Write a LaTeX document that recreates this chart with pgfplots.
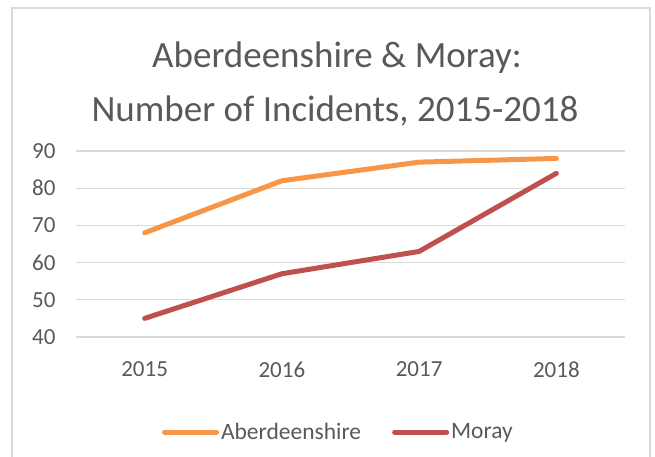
\documentclass[border=0pt]{standalone}
\usepackage{pgfplots}
\pgfplotsset{compat=1.18}
\usepackage{fontspec}
\setmainfont{Carlito}
\definecolor{txt}{HTML}{595959}
\definecolor{gridc}{HTML}{D9D9D9}
\definecolor{aber}{HTML}{F79646}
\definecolor{moray}{HTML}{C0504D}
\pgfplotstableread{
x y
0 68
1 82
2 87
3 88
}\aberdata
\pgfplotstableread{
x y
0 45
1 57
2 63
3 84
}\moraydata
\begin{document}
\begin{tikzpicture}[x=1pt,y=1pt]
\useasboundingbox (0,0) rectangle (655,457);
\draw[gridc, line width=1.2pt] (12,0) -- (12,449) -- (650,449) -- (650,0);
\node[txt, font=\fontsize{37}{54}\selectfont, anchor=base] at (337,389) {Aberdeenshire \& Moray:};
\node[txt, font=\fontsize{37}{54}\selectfont, anchor=base] at (335,335) {Number of Incidents, 2015-2018};
\begin{axis}[
  at={(76pt,120pt)}, anchor=south west,
  scale only axis, width=549pt, height=186pt,
  xmin=-0.5, xmax=3.5, ymin=40, ymax=90,
  xtick={0,1,2,3}, xticklabels={2015,2016,2017,2018},
  ytick={40,50,60,70,80,90},
  xmajorgrids=false, ymajorgrids=true,
  grid style={color=gridc, line width=1.2pt},
  axis line style={draw=none}, tick style={draw=none},
  tick label style={font=\fontsize{23}{27}\selectfont, text=txt},
  /pgf/number format/assume math mode=true,
  xticklabel style={yshift=-21pt},
  yticklabel style={xshift=-17pt},
  clip=false,
  legend columns=2,
  legend style={draw=none, fill=none, at={(0.478,-0.511)}, anchor=center,
    font=\fontsize{23.5}{27}\selectfont, text=txt,
    /tikz/every even column/.append style={column sep=29pt}},
  legend image code/.code={\draw[#1, line cap=round] (0pt,0pt) -- (52pt,0pt);},
]
\addplot[aber, line width=5pt, line cap=round, line join=round] table[x=x,y=y] {\aberdata};
\addlegendentry{Aberdeenshire}
\addplot[moray, line width=5pt, line cap=round, line join=round] table[x=x,y=y] {\moraydata};
\addlegendentry{Moray}
\end{axis}
\end{tikzpicture}
\end{document}
